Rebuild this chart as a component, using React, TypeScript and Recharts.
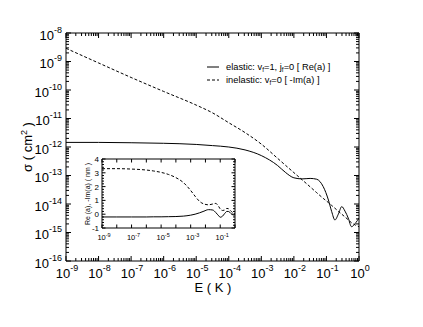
import React from 'react';
import { LineChart, Line, XAxis, YAxis } from 'recharts';

const FONT = '"Liberation Sans", Arial, Helvetica, sans-serif';

// ---------- main panel data: cross sections vs collision energy ----------
const energyK = [1e-9, 1e-8, 1e-7, 1e-6, 1e-5, 3.16e-5, 1e-4, 3.16e-4, 1e-3, 3.16e-3, 5.62e-3, 1e-2, 1.78e-2, 3.16e-2, 5.01e-2, 7.94e-2, 0.115, 0.145, 0.182, 0.234, 0.295, 0.372, 0.468, 0.589, 0.794, 1.0];
const elasticSigma = [1.45e-12, 1.45e-12, 1.41e-12, 1.35e-12, 1.23e-12, 1.12e-12, 1.0e-12, 7.9e-13, 5.0e-13, 2.24e-13, 1.26e-13, 8.3e-14, 7.6e-14, 7.9e-14, 7.4e-14, 4.1e-14, 1.38e-14, 5.4e-15, 2.75e-15, 4.5e-15, 8.1e-15, 5.6e-15, 3.2e-15, 1.6e-15, 2.2e-15, 3.2e-15];
const inelasticSigma = [2.9e-9, 8.9e-10, 2.75e-10, 8.9e-11, 2.95e-11, 1.58e-11, 7.1e-12, 3.2e-12, 1.26e-12, 4.0e-13, 2.24e-13, 1.26e-13, 7.1e-14, 4.0e-14, 2.5e-14, 1.58e-14, 1.12e-14, 8.9e-15, 7.1e-15, 5.5e-15, 4.4e-15, 3.5e-15, 2.8e-15, 2.2e-15, 1.8e-15, 1.6e-15];

// ---------- inset data: scattering length components ----------
const insetEnergyK = [1e-9, 1e-8, 1e-7, 1e-6, 3.16e-6, 1e-5, 3.16e-5, 1e-4, 3.16e-4, 1e-3, 2e-3, 3.98e-3, 7.94e-3, 1.58e-2, 3.16e-2, 5.01e-2, 7.94e-2, 0.1, 0.141, 0.2, 0.282, 0.355, 0.562, 0.794, 1.0];
const reA = [-0.2, -0.2, -0.2, -0.2, -0.19, -0.19, -0.18, -0.17, -0.14, -0.07, 0.0, 0.1, 0.22, 0.33, 0.3, 0.12, -0.12, -0.22, -0.15, 0.05, 0.2, 0.2, 0.03, -0.06, -0.05];
const minusImA = [3.3, 3.3, 3.27, 3.2, 3.13, 3.03, 2.88, 2.65, 2.3, 1.72, 1.3, 0.93, 0.74, 0.68, 0.74, 0.78, 0.55, 0.38, 0.27, 0.3, 0.42, 0.4, 0.2, 0.08, 0.05];

// ---------- tick definitions ----------
const mainXDecades = [-9, -8, -7, -6, -5, -4, -3, -2, -1, 0];
const mainYDecades = [-16, -15, -14, -13, -12, -11, -10, -9, -8];
const minorSteps = [2, 3, 4, 5, 6, 7, 8, 9];
const insetXDecades = [-9, -8, -7, -6, -5, -4, -3, -2, -1, 0];
const insetXLabelled = [-9, -7, -5, -3, -1];
const insetYMajor = [-1, 0, 1, 2, 3, 4];
const insetYMinorStep = 0.2;

const mainData = energyK.map((E, i) => ({ E, elastic: elasticSigma[i], inelastic: inelasticSigma[i] }));
const insetData = insetEnergyK.map((E, i) => ({ E, re: reA[i], im: minusImA[i] }));

function logTicks(decades: number[], withMinor: boolean) {
  const out: number[] = [];
  decades.forEach((d, i) => {
    out.push(Math.pow(10, d));
    if (withMinor && i < decades.length - 1) minorSteps.forEach((m) => out.push(m * Math.pow(10, d)));
  });
  return out;
}
const isDecade = (v: number) => Math.abs(Math.log10(v) - Math.round(Math.log10(v))) < 1e-6;
const expOf = (v: number) => Math.round(Math.log10(v));

const mainXTicks = logTicks(mainXDecades, true);
const mainYTicks = logTicks(mainYDecades, true);
const insetXTicks = logTicks(insetXDecades, false);
const insetYTicks: number[] = [];
for (let k = 0; k <= Math.round((insetYMajor[insetYMajor.length - 1] - insetYMajor[0]) / insetYMinorStep); k++) {
  insetYTicks.push(Math.round((insetYMajor[0] + k * insetYMinorStep) * 100) / 100);
}

type Side = 'bottom' | 'top' | 'left' | 'right';

function tickLine(side: Side, x: number, y: number, len: number) {
  if (side === 'bottom') return <line x1={x} x2={x} y1={y} y2={y - len} stroke="#000" strokeWidth={1} />;
  if (side === 'top') return <line x1={x} x2={x} y1={y} y2={y + len} stroke="#000" strokeWidth={1} />;
  if (side === 'left') return <line x1={x} x2={x + len} y1={y} y2={y} stroke="#000" strokeWidth={1} />;
  return <line x1={x} x2={x - len} y1={y} y2={y} stroke="#000" strokeWidth={1} />;
}

function mainTick(side: Side) {
  return (props: any) => {
    const { x, y, payload } = props;
    const v = payload.value as number;
    const major = isDecade(v);
    const len = major ? 5 : 3;
    let label = null;
    if (major && side === 'bottom') {
      label = (
        <text x={x + 1} y={y + 17} textAnchor="middle" fontSize={13} fontFamily={FONT} fill="#000">
          10<tspan dy={-7.5} fontSize={9}>{String(expOf(v))}</tspan>
        </text>
      );
    }
    if (major && side === 'left') {
      label = (
        <text x={x - 4} y={y + 6.5} textAnchor="end" fontSize={13} fontFamily={FONT} fill="#000">
          10<tspan dy={-7} fontSize={9}>{String(expOf(v))}</tspan>
        </text>
      );
    }
    return (
      <g>
        {tickLine(side, x, y, len)}
        {label}
      </g>
    );
  };
}

function insetXTick(side: Side) {
  return (props: any) => {
    const { x, y, payload } = props;
    const v = payload.value as number;
    const e = expOf(v);
    let label = null;
    if (side === 'bottom' && insetXLabelled.indexOf(e) >= 0) {
      label = (
        <text x={x + 2} y={y + 12} textAnchor="middle" fontSize={7.5} fontFamily={FONT} fill="#000">
          10<tspan dy={-3.5} fontSize={5.5}>{String(e)}</tspan>
        </text>
      );
    }
    return (
      <g>
        {tickLine(side, x, y, 3.5)}
        {label}
      </g>
    );
  };
}

function insetYTick(side: Side) {
  return (props: any) => {
    const { x, y, payload } = props;
    const v = payload.value as number;
    const major = Math.abs(v - Math.round(v)) < 1e-6;
    let label = null;
    if (major && side === 'left') {
      label = (
        <text x={x - 3} y={y + 3} textAnchor="end" fontSize={8} fontFamily={FONT} fill="#000">
          {String(Math.round(v))}
        </text>
      );
    }
    return (
      <g>
        {tickLine(side, x, y, major ? 3.5 : 2)}
        {label}
      </g>
    );
  };
}

const axisCommon = {
  tickSize: 0,
  tickMargin: 0,
  tickLine: false,
  interval: 0 as const,
  allowDataOverflow: true,
  axisLine: { stroke: '#000', strokeWidth: 1 },
};

export default function App() {
  return (
    <div style={{ position: 'absolute', left: 0, top: 0, width: 423, height: 327, background: '#fff', fontFamily: FONT }}>
      <div style={{ position: 'absolute', left: 0, top: 0 }}>
        <LineChart width={423} height={327} data={mainData} margin={{ top: 32, right: 63, bottom: 65, left: 65 }}>
          <XAxis xAxisId="b" orientation="bottom" dataKey="E" type="number" scale="log" domain={[1e-9, 1]} ticks={mainXTicks} height={1} tick={mainTick('bottom')} {...axisCommon} />
          <XAxis xAxisId="t" orientation="top" dataKey="E" type="number" scale="log" domain={[1e-9, 1]} ticks={mainXTicks} height={1} tick={mainTick('top')} {...axisCommon} />
          <YAxis yAxisId="l" orientation="left" type="number" scale="log" domain={[1e-16, 1e-8]} ticks={mainYTicks} width={1} tick={mainTick('left')} {...axisCommon} />
          <YAxis yAxisId="r" orientation="right" type="number" scale="log" domain={[1e-16, 1e-8]} ticks={mainYTicks} width={1} tick={mainTick('right')} {...axisCommon} />
          <Line xAxisId="b" yAxisId="l" dataKey="elastic" type="monotone" stroke="#000" strokeWidth={1} dot={false} isAnimationActive={false} />
          <Line xAxisId="b" yAxisId="l" dataKey="inelastic" type="monotone" stroke="#000" strokeWidth={1} strokeDasharray="3 2" dot={false} isAnimationActive={false} />
        </LineChart>
      </div>
      <div style={{ position: 'absolute', left: 0, top: 0 }}>
        <LineChart width={423} height={327} data={insetData} margin={{ top: 158, right: 187, bottom: 98, left: 101 }}>
          <XAxis xAxisId="b" orientation="bottom" dataKey="E" type="number" scale="log" domain={[1e-9, 1]} ticks={insetXTicks} height={1} tick={insetXTick('bottom')} {...axisCommon} />
          <XAxis xAxisId="t" orientation="top" dataKey="E" type="number" scale="log" domain={[1e-9, 1]} ticks={insetXTicks} height={1} tick={insetXTick('top')} {...axisCommon} />
          <YAxis yAxisId="l" orientation="left" type="number" domain={[-1, 4]} ticks={insetYTicks} width={1} tick={insetYTick('left')} {...axisCommon} />
          <YAxis yAxisId="r" orientation="right" type="number" domain={[-1, 4]} ticks={insetYTicks} width={1} tick={insetYTick('right')} {...axisCommon} />
          <Line xAxisId="b" yAxisId="l" dataKey="re" type="monotone" stroke="#000" strokeWidth={1} dot={false} isAnimationActive={false} />
          <Line xAxisId="b" yAxisId="l" dataKey="im" type="monotone" stroke="#000" strokeWidth={1} strokeDasharray="3 2" dot={false} isAnimationActive={false} />
        </LineChart>
      </div>
      <svg width={423} height={327} style={{ position: 'absolute', left: 0, top: 0, pointerEvents: 'none' }}>
        <text transform="translate(32,147) rotate(-90)" textAnchor="middle" fontSize={13} fontFamily={FONT} fill="#000">
          σ ( cm<tspan dy={-5} fontSize={9}>2</tspan><tspan dy={5}> )</tspan>
        </text>
        <text x={213} y={292} textAnchor="middle" fontSize={13} fontFamily={FONT} fill="#000">E ( K )</text>
        <text transform="translate(90,194) rotate(-90)" textAnchor="middle" fontSize={7} fontFamily={FONT} fill="#000">Re (a), -Im(a) ( nm )</text>
        <line x1={207} x2={219} y1={67} y2={67} stroke="#000" strokeWidth={1} />
        <text x={226} y={70} fontSize={9.3} fontFamily={FONT} fill="#000">
          elastic: v<tspan dy={2} fontSize={6.5}>f</tspan><tspan dy={-2}>=1, j</tspan><tspan dy={2} fontSize={6.5}>f</tspan><tspan dy={-2}>=0 [ Re(a) ]</tspan>
        </text>
        <line x1={207} x2={219} y1={80} y2={80} stroke="#000" strokeWidth={1} strokeDasharray="3 2" />
        <text x={226} y={83} fontSize={9.3} fontFamily={FONT} fill="#000">
          inelastic: v<tspan dy={2} fontSize={6.5}>f</tspan><tspan dy={-2}>=0 [ -Im(a) ]</tspan>
        </text>
      </svg>
    </div>
  );
}
